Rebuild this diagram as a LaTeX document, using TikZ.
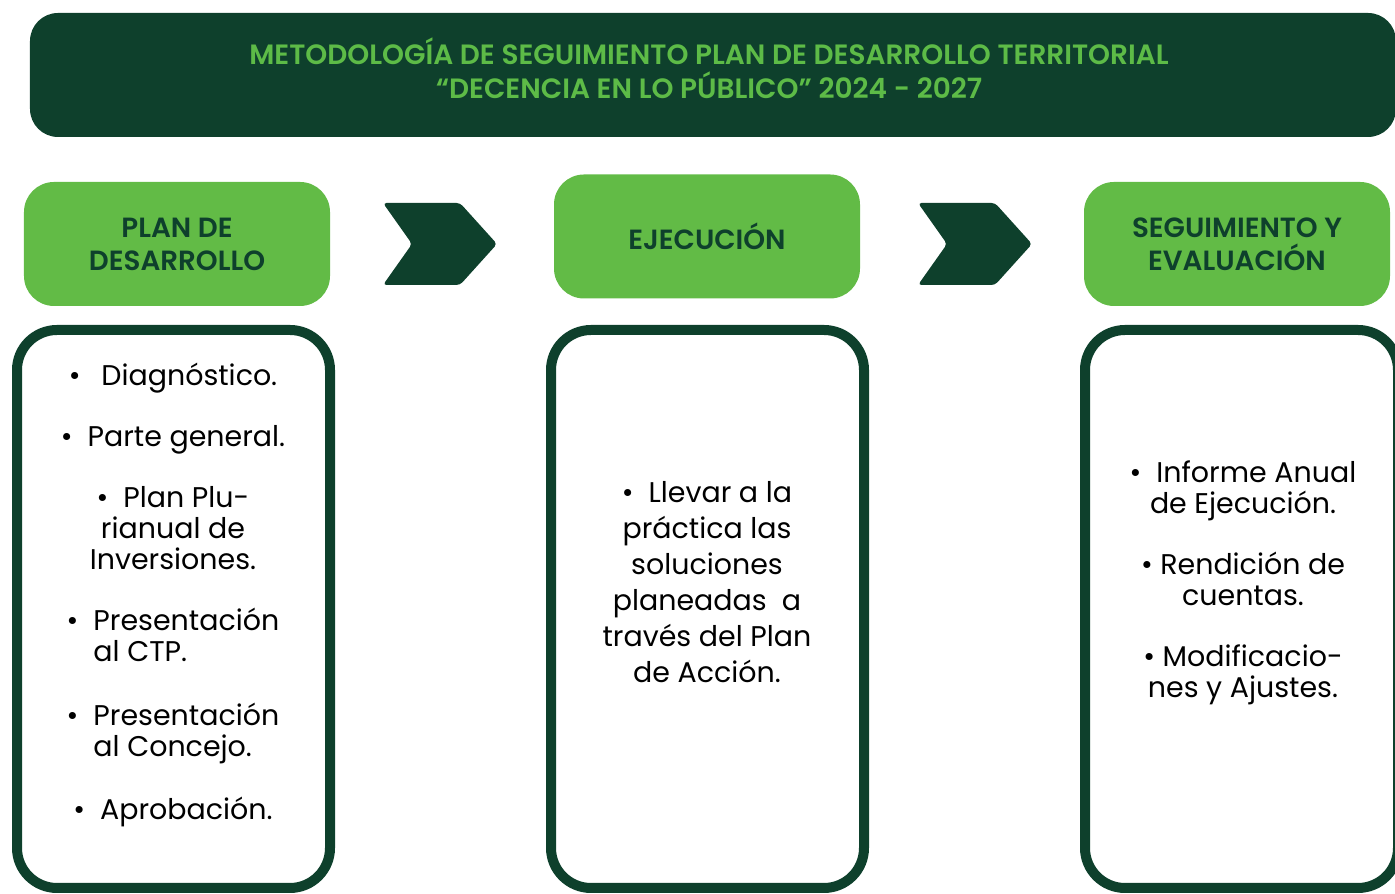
\documentclass[tikz,border=0pt]{standalone}
\usepackage{fontspec}
\setmainfont{Poppins}[BoldFont={Poppins SemiBold}]
\usepackage{tikz}
\usetikzlibrary{positioning}
\definecolor{pddark}{HTML}{0E402C}
\definecolor{pdgreen}{HTML}{62BB46}
\definecolor{pdtitle}{HTML}{5DBB47}
\newcommand{\hangpair}[2]{\begin{tabular}[t]{@{}l@{}}#1\\#2\end{tabular}}
\newcommand{\itm}{\textbullet\hspace{0.3cm}}

\begin{document}
\begin{tikzpicture}[
  every node/.style={font=\fontsize{16.2}{17.64}\selectfont},
  titlebar/.style={rectangle, fill=pddark, rounded corners=0.56cm, minimum width=27.32cm, minimum height=2.48cm},
  titletext/.style={align=center, text=pdtitle, font=\fontsize{15.9}{19.3}\selectfont\bfseries},
  headbox/.style={rectangle, fill=pdgreen, rounded corners=0.6cm, minimum width=6.12cm, minimum height=2.48cm, align=center, text=pddark, font=\fontsize{15.8}{18.8}\selectfont\bfseries},
  listbox/.style={rectangle, draw=pddark, line width=0.2cm, fill=white, rounded corners=0.8cm, minimum width=6.26cm, minimum height=11.16cm},
  listtext/.style={align=center, text=black},
  chevfill/.style={fill=pddark, rounded corners=2pt},
]
\useasboundingbox (0,0) rectangle (27.9,17.88);

% Title bar
\node[titlebar] (title) at (14.26, 16.38) {};
\node[titletext] (titlelabel) at (14.18, 16.52) {METODOLOGÍA DE SEGUIMIENTO PLAN DE DESARROLLO TERRITORIAL\\``DECENCIA EN LO PÚBLICO'' 2024 - 2027};

% Stage headers
\node[headbox] (plan) at (3.54, 13.0) {PLAN DE\\DESARROLLO};
\node[headbox] (ejec) at (14.14, 13.15) {EJECUCIÓN};
\node[headbox] (seg) at (24.74, 13.0) {SEGUIMIENTO Y\\EVALUACIÓN};

% Chevrons between stages
\fill[chevfill] (7.66,13.82) -- (9.2,13.82) -- (9.94,13.0) -- (9.2,12.18) -- (7.66,12.18) -- (8.24,13.0) -- cycle;
\fill[chevfill] (18.36,13.82) -- (19.9,13.82) -- (20.64,13.0) -- (19.9,12.18) -- (18.36,12.18) -- (18.94,13.0) -- cycle;

% Content boxes
\node[listbox] (planbox) at (3.47, 5.70) {};
\node[listbox] (ejecbox) at (14.15, 5.70) {};
\node[listbox] (segbox) at (24.83, 5.70) {};

% Box contents
\node[listtext] (planlist) at (3.46, 5.98) {%
\textbullet\hspace{0.42cm}Diagnóstico.\\[0.6cm]
\itm Parte general.\\[0.6cm]
\itm Plan Plu-\\rianual de\\Inversiones.\\[0.6cm]
\itm\hangpair{Presentación}{al CTP.}\\[0.6cm]
\itm\hangpair{Presentación}{al Concejo.}\\[0.6cm]
\itm Aprobación.};

\node[listtext, font=\fontsize{16.2}{20.5}\selectfont] (ejeclist) at (14.14, 6.24) {%
\itm Llevar a la\\práctica las\\soluciones\\planeadas\ \ a\\través del Plan\\de Acción.};

\node[listtext] (seglist) at (24.86, 6.22) {%
\itm Informe Anual\\de Ejecución.\\[0.6cm]
\textbullet\ Rendición de\\cuentas.\\[0.6cm]
\textbullet\ Modificacio-\\nes y Ajustes.};

\end{tikzpicture}
\end{document}
